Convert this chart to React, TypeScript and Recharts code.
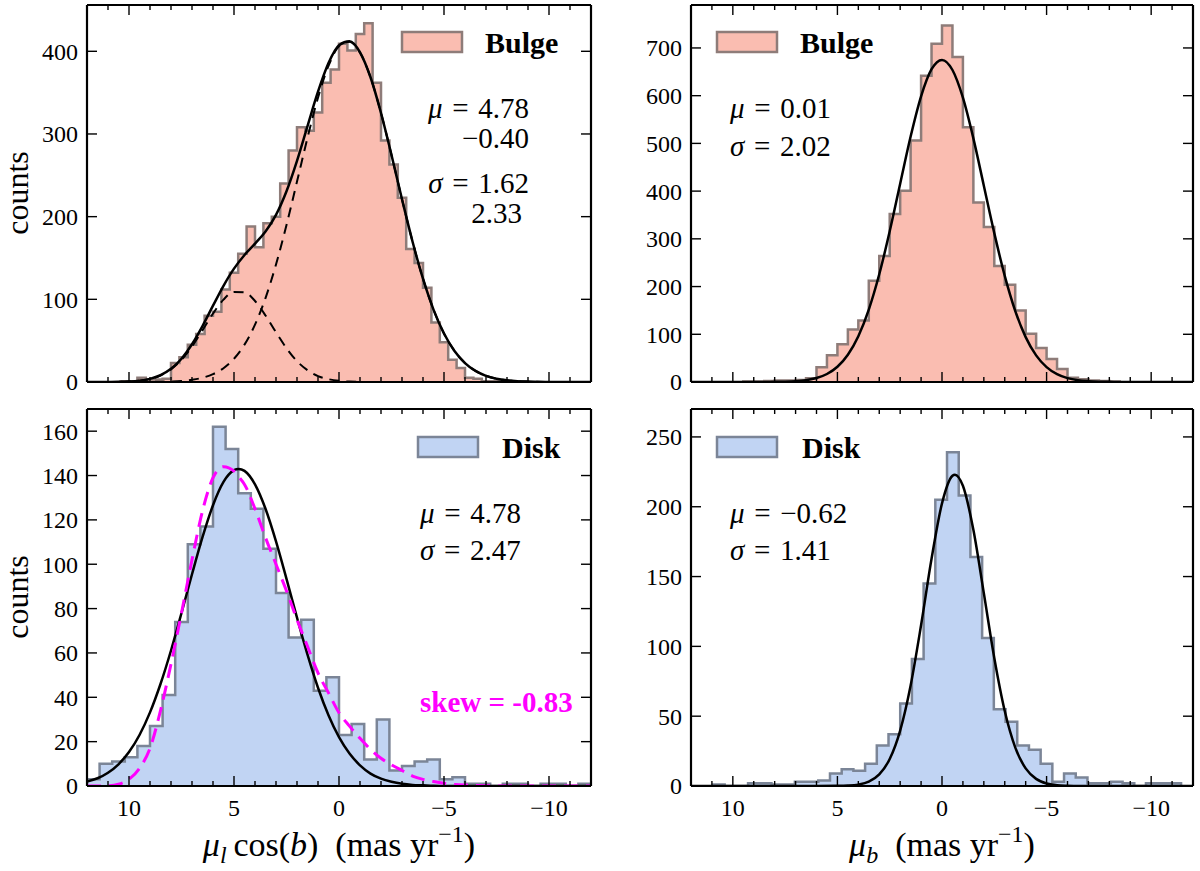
import React from "react";
import { ComposedChart, Area, Line, XAxis, YAxis } from "recharts";

const FONT = "'Liberation Serif', 'Times New Roman', serif";

// x ticks: minor every 1 mas/yr, labelled every 5
const xTicks = [-11, -10, -9, -8, -7, -6, -5, -4, -3, -2, -1, 0, 1, 2, 3, 4, 5, 6, 7, 8, 9, 10, 11];

const topLeftTicks = [0, 100, 200, 300, 400];
const topRightTicks = [0, 100, 200, 300, 400, 500, 600, 700];
const bottomLeftTicks = [0, 20, 40, 60, 80, 100, 120, 140, 160];
const bottomRightTicks = [0, 50, 100, 150, 200, 250];

// bulge, mu_l cos(b)
const bulgeLStart = -7.6;
const bulgeLWidth = 0.4;
const bulgeLCounts = [
  1, 1, 4, 5, 17, 27, 48, 72, 114, 144, 161, 223, 263, 292, 362, 434, 421, 401, 409, 378,
  362, 326, 304, 308, 280, 240, 200, 192, 163, 188, 155, 132, 112, 85, 80, 58, 45, 30, 23, 4,
  3, 3, 5, 1, 1,
];
const bulgeLCurveX = [
  -12, -10, -9, -8.5, -8, -7.5, -7, -6.5, -6, -5.5, -5, -4.5, -4, -3.5, -3, -2.5, -2, -1.5, -1, -0.5,
  0, 0.5, 1, 1.5, 2, 2.5, 3, 3.5, 4, 4.5, 5, 5.5, 6, 6.5, 7, 7.5, 8, 8.5, 9, 9.5, 10, 10.5, 11, 12,
];
const bulgeLFit = [
  0, 0, 0.5, 1.0, 2.0, 4.0, 7.5, 13.4, 22.9, 37.5, 58.7, 87.6, 124.9, 170.0, 221.1, 274.5, 325.4, 368.6, 398.8, 412.1,
  407.4, 385.8, 351.1, 309.6, 267.6, 230.8, 202.2, 182.0, 167.3, 153.6, 137.1, 116.4, 92.3, 67.7, 45.7, 28.2, 15.9, 8.2, 3.8, 1.6,
  0.6, 0.2, 0.1, 0,
];
const bulgeLComp1 = [
  0, 0, 0, 0, 0, 0, 0, 0, 0, 0, 0, 0, 0, 0, 0, 0, 0, 0, 0.2, 0.5,
  1.4, 3.4, 7.2, 14.2, 25.2, 40.9, 60.1, 80.5, 98.0, 108.4, 109.0, 99.7, 82.8, 62.6, 43.0, 26.9, 15.3, 7.9, 3.7, 1.6,
  0.6, 0.2, 0.1, 0,
];
const bulgeLComp2 = [
  0, 0, 0.5, 1.0, 2.0, 4.0, 7.5, 13.4, 22.9, 37.5, 58.7, 87.6, 124.9, 170.0, 221.1, 274.5, 325.4, 368.6, 398.6, 411.6,
  406.0, 382.4, 343.9, 295.4, 242.4, 189.9, 142.1, 101.5, 69.3, 45.2, 28.1, 16.7, 9.5, 5.1, 2.7, 1.3, 0.6, 0.3, 0.1, 0,
  0, 0, 0, 0,
];

// bulge, mu_b
const bulgeBStart = -8.5;
const bulgeBWidth = 0.5;
const bulgeBCounts = [
  1, 2, 3, 6, 9, 27, 48, 71, 101, 150, 204, 243, 325, 376, 534, 681, 747, 709, 642, 506,
  401, 352, 264, 212, 129, 110, 79, 56, 31, 8, 4, 3, 3, 2, 1, 1,
];
const bulgeBCurveX = [
  -12, -10, -9, -8.5, -8, -7.5, -7, -6.5, -6, -5.5, -5, -4.5, -4, -3.5, -3, -2.5, -2, -1.5, -1, -0.5,
  0, 0.5, 1, 1.5, 2, 2.5, 3, 3.5, 4, 4.5, 5, 5.5, 6, 6.5, 7, 7.5, 8, 8.5, 9, 10, 12,
];
const bulgeBFit = [
  0, 0, 0, 0.1, 0.3, 0.7, 1.7, 3.7, 8.1, 16.4, 31.2, 55.8, 94.1, 149.2, 222.4, 311.9, 411.4, 510.5, 595.7, 653.8,
  675, 655.4, 598.6, 514.3, 415.5, 315.8, 225.7, 151.7, 96.0, 57.1, 31.9, 16.8, 8.3, 3.9, 1.7, 0.7, 0.3, 0.1, 0, 0, 0,
];

// disk, mu_l cos(b)
const diskLStart = -12;
const diskLWidth = 0.6;
const diskLCounts = [
  1, 0, 1, 1, 0, 1, 1, 0, 1, 1, 4, 3, 12, 11, 9, 7, 30, 12, 28, 23,
  49, 43, 75, 67, 87, 107, 125, 132, 152, 162, 117, 109, 74, 41, 27, 18, 13, 11, 10, 3,
];
const diskLCurveX = [
  -12, -10, -8, -7, -6.5, -6, -5.5, -5, -4.5, -4, -3.5, -3, -2.5, -2, -1.5, -1, -0.5, 0, 0.5, 1,
  1.5, 2, 2.5, 3, 3.5, 4, 4.5, 4.78, 5, 5.5, 6, 6.5, 7, 7.5, 8, 8.5, 9, 9.5, 10, 10.5, 11, 11.5, 12,
];
const diskLFit = [
  0, 0, 0, 0, 0, 0, 0, 0, 0.1, 0.3, 0.5, 1.0, 1.9, 3.3, 5.6, 9.3, 14.6, 22.0, 31.9, 44.3,
  59.2, 75.9, 93.4, 110.3, 125.0, 136.0, 142.1, 143, 142.4, 137.1, 126.6, 112.2, 95.5, 78.0, 61.1, 46.0, 33.2, 23.0, 15.3, 9.8,
  6.0, 3.5, 2.0,
];
const diskLSkew = [
  0, 0, 0, 0.1, 0.2, 0.4, 0.7, 1.2, 2, 3, 4.5, 7, 9.5, 12.5, 16.5, 21.5, 27, 33, 42, 51,
  63, 75, 88, 100, 112, 125, 136, 139.5, 142, 144, 139, 124, 102, 78, 55, 34, 17, 8, 3, 0.8,
  0.1, 0, 0,
];

// disk, mu_b
const diskBStart = -11.43;
const diskBWidth = 0.5595;
const diskBCounts = [
  2, 2, 2, 0, 2, 3, 2, 2, 6, 9, 3, 16, 26, 29, 46, 55, 106, 164, 208, 239,
  205, 145, 91, 59, 37, 29, 16, 11, 12, 9, 4, 3, 3, 1, 1, 2, 2, 0, 0, 1,
];
const diskBCurveX = [
  -12, -9, -8, -7, -6.5, -6, -5.5, -5, -4.5, -4, -3.5, -3, -2.5, -2, -1.5, -1, -0.62, -0.5, 0, 0.5,
  1, 1.5, 2, 2.5, 3, 3.5, 4, 4.5, 5, 6, 8, 12,
];
const diskBFit = [
  0, 0, 0, 0, 0, 0.2, 0.6, 1.8, 5.1, 12.6, 27.7, 53.7, 91.7, 138.1, 183.5, 215.0, 223, 222.2, 202.4, 162.7,
  115.3, 72.0, 39.7, 19.3, 8.3, 3.1, 1.0, 0.3, 0.1, 0, 0, 0,
];

const BULGE_FILL = "#fabdb1";
const BULGE_EDGE = "#8e7c79";
const DISK_FILL = "#c1d4f3";
const DISK_EDGE = "#7b8597";

type Row = { x: number; [key: string]: number | undefined };

// histogram edges (descending, for a reversed axis) merged with the fit curves
function buildRows(start: number, width: number, counts: number[], curveX: number[], curves: Record<string, number[]>) {
  const rows: Row[] = [];
  const n = counts.length;
  rows.push({ x: start + n * width, count: 0 });
  for (let i = n - 1; i >= 0; i--) rows.push({ x: start + (i + 1) * width, count: counts[i] });
  rows.push({ x: start, count: 0 });
  curveX.forEach((x, j) => {
    const r: Row = { x };
    Object.keys(curves).forEach((k) => {
      r[k] = curves[k][j];
    });
    rows.push(r);
  });
  return rows.sort((a, b) => b.x - a.x);
}

const minusFmt = (v: number) => (v < 0 ? `\u2212${-v}` : `${v}`);

function BottomTick(props: any) {
  const { x, y, payload, labels } = props;
  const v = payload.value;
  const major = v % 5 === 0;
  return (
    <g>
      <line x1={x} x2={x} y1={y} y2={y - (major ? 10 : 5)} stroke="#000" strokeWidth={1.4} />
      {labels && major ? (
        <text x={x} y={y + 30} textAnchor="middle" fontFamily={FONT} fontSize={24} fill="#000">
          {minusFmt(v)}
        </text>
      ) : null}
    </g>
  );
}

function TopTick(props: any) {
  const { x, y, payload } = props;
  const major = payload.value % 5 === 0;
  return <line x1={x} x2={x} y1={y} y2={y + (major ? 10 : 5)} stroke="#000" strokeWidth={1.4} />;
}

function LeftTick(props: any) {
  const { x, y, payload } = props;
  return (
    <g>
      <line x1={x} x2={x + 10} y1={y} y2={y} stroke="#000" strokeWidth={1.4} />
      <text x={x - 9} y={y} dy="0.35em" textAnchor="end" fontFamily={FONT} fontSize={24} fill="#000">
        {payload.value}
      </text>
    </g>
  );
}

function RightTick(props: any) {
  const { x, y } = props;
  return <line x1={x} x2={x - 10} y1={y} y2={y} stroke="#000" strokeWidth={1.4} />;
}

type LineSpec = { key: string; color: string; width: number; dash?: string };

type PanelProps = {
  left: number;
  top: number;
  width: number;
  height: number;
  axes: { left: number; right: number; top: number; bottom: number };
  yDomain: [number, number];
  yTicks: number[];
  xLabels: boolean;
  rows: Row[];
  fill: string;
  edge: string;
  lines: LineSpec[];
};

const frame = { stroke: "#000", strokeWidth: 2.2 };

function Panel(p: PanelProps) {
  return (
    <div style={{ position: "absolute", left: p.left, top: p.top }}>
      <ComposedChart width={p.width} height={p.height} data={p.rows} margin={{ top: 0, right: 0, bottom: 0, left: 0 }}>
        <XAxis
          xAxisId="b"
          dataKey="x"
          type="number"
          domain={[-12, 12]}
          reversed
          allowDataOverflow
          ticks={xTicks}
          interval={0}
          height={p.axes.bottom}
          tickSize={0}
          tickMargin={0}
          tickLine={false}
          axisLine={frame}
          tick={(t: any) => <BottomTick {...t} labels={p.xLabels} />}
        />
        <XAxis
          xAxisId="t"
          orientation="top"
          dataKey="x"
          type="number"
          domain={[-12, 12]}
          reversed
          allowDataOverflow
          ticks={xTicks}
          interval={0}
          height={p.axes.top}
          tickSize={0}
          tickMargin={0}
          tickLine={false}
          axisLine={frame}
          tick={(t: any) => <TopTick {...t} />}
        />
        <YAxis
          yAxisId="l"
          type="number"
          domain={p.yDomain}
          allowDataOverflow
          ticks={p.yTicks}
          interval={0}
          width={p.axes.left}
          tickSize={0}
          tickMargin={0}
          tickLine={false}
          axisLine={frame}
          tick={(t: any) => <LeftTick {...t} />}
        />
        <YAxis
          yAxisId="r"
          orientation="right"
          type="number"
          domain={p.yDomain}
          allowDataOverflow
          ticks={p.yTicks}
          interval={0}
          width={p.axes.right}
          tickSize={0}
          tickMargin={0}
          tickLine={false}
          axisLine={frame}
          tick={(t: any) => <RightTick {...t} />}
        />
        <Area
          xAxisId="b"
          yAxisId="l"
          type="stepAfter"
          dataKey="count"
          fill={p.fill}
          fillOpacity={1}
          stroke={p.edge}
          strokeWidth={2.5}
          connectNulls
          dot={false}
          activeDot={false}
          isAnimationActive={false}
        />
        {p.lines.map((l) => (
          <Line
            key={l.key}
            xAxisId="b"
            yAxisId="l"
            type="monotone"
            dataKey={l.key}
            stroke={l.color}
            strokeWidth={l.width}
            strokeDasharray={l.dash}
            connectNulls
            dot={false}
            activeDot={false}
            isAnimationActive={false}
          />
        ))}
      </ComposedChart>
    </div>
  );
}

function MathText({ x, y, sym, value, anchor = "start" }: { x: number; y: number; sym?: string; value: string; anchor?: "start" | "end" }) {
  return (
    <text x={x} y={y} textAnchor={anchor} fontFamily={FONT} fontSize={29} fill="#000">
      {sym ? <tspan fontStyle="italic">{sym}</tspan> : null}
      {sym ? `\u2004=\u2004${value}` : value}
    </text>
  );
}

function LegendEntry({ x, y, tx, fill, edge, label }: { x: number; y: number; tx: number; fill: string; edge: string; label: string }) {
  return (
    <g>
      <rect x={x} y={y} width={60} height={20} fill={fill} stroke={edge} strokeWidth={2.5} />
      <text x={tx} y={y + 21} fontFamily={FONT} fontWeight="bold" fontSize={30} fill="#000">
        {label}
      </text>
    </g>
  );
}

export default function App() {
  const topLeftRows = buildRows(bulgeLStart, bulgeLWidth, bulgeLCounts, bulgeLCurveX, {
    fit: bulgeLFit,
    comp1: bulgeLComp1,
    comp2: bulgeLComp2,
  });
  const topRightRows = buildRows(bulgeBStart, bulgeBWidth, bulgeBCounts, bulgeBCurveX, { fit: bulgeBFit });
  const bottomLeftRows = buildRows(diskLStart, diskLWidth, diskLCounts, diskLCurveX, { fit: diskLFit, skew: diskLSkew });
  const bottomRightRows = buildRows(diskBStart, diskBWidth, diskBCounts, diskBCurveX, { fit: diskBFit });

  return (
    <div style={{ position: "absolute", left: 0, top: 0, width: 1200, height: 871, background: "#fff", overflow: "hidden" }}>
      <Panel
        left={0}
        top={0}
        width={600}
        height={410}
        axes={{ left: 87, right: 9, top: 5, bottom: 28 }}
        yDomain={[0, 456]}
        yTicks={topLeftTicks}
        xLabels={false}
        rows={topLeftRows}
        fill={BULGE_FILL}
        edge={BULGE_EDGE}
        lines={[
          { key: "comp1", color: "#000", width: 2, dash: "10 7" },
          { key: "comp2", color: "#000", width: 2, dash: "10 7" },
          { key: "fit", color: "#000", width: 2.5 },
        ]}
      />
      <Panel
        left={600}
        top={0}
        width={600}
        height={410}
        axes={{ left: 91, right: 7, top: 5, bottom: 28 }}
        yDomain={[0, 790]}
        yTicks={topRightTicks}
        xLabels={false}
        rows={topRightRows}
        fill={BULGE_FILL}
        edge={BULGE_EDGE}
        lines={[{ key: "fit", color: "#000", width: 2.5 }]}
      />
      <Panel
        left={0}
        top={400}
        width={600}
        height={420}
        axes={{ left: 87, right: 9, top: 9, bottom: 34 }}
        yDomain={[0, 170]}
        yTicks={bottomLeftTicks}
        xLabels
        rows={bottomLeftRows}
        fill={DISK_FILL}
        edge={DISK_EDGE}
        lines={[
          { key: "fit", color: "#000", width: 2.5 },
          { key: "skew", color: "#ff00ff", width: 3, dash: "14 8" },
        ]}
      />
      <Panel
        left={600}
        top={400}
        width={600}
        height={420}
        axes={{ left: 91, right: 7, top: 9, bottom: 34 }}
        yDomain={[0, 270]}
        yTicks={bottomRightTicks}
        xLabels
        rows={bottomRightRows}
        fill={DISK_FILL}
        edge={DISK_EDGE}
        lines={[{ key: "fit", color: "#000", width: 2.5 }]}
      />

      <svg width={1200} height={871} style={{ position: "absolute", left: 0, top: 0, pointerEvents: "none" }}>
        {/* y labels */}
        <text x={17} y={193} transform="rotate(-90 17 193)" textAnchor="middle" dominantBaseline="central" fontFamily={FONT} fontSize={32}>
          counts
        </text>
        <text x={17} y={597} transform="rotate(-90 17 597)" textAnchor="middle" dominantBaseline="central" fontFamily={FONT} fontSize={32}>
          counts
        </text>

        {/* x labels */}
        <text x={339} y={856} textAnchor="middle" fontFamily={FONT} fontSize={34} fill="#000">
          <tspan fontStyle="italic">μ</tspan>
          <tspan fontStyle="italic" fontSize={24} dy={7}>l</tspan>
          <tspan dy={-7}>{"\u2009cos("}</tspan>
          <tspan fontStyle="italic">b</tspan>
          <tspan>{")\u2002(mas yr"}</tspan>
          <tspan fontSize={24} dy={-14}>{"\u22121"}</tspan>
          <tspan dy={14}>)</tspan>
        </text>
        <text x={942} y={856} textAnchor="middle" fontFamily={FONT} fontSize={34} fill="#000">
          <tspan fontStyle="italic">μ</tspan>
          <tspan fontStyle="italic" fontSize={24} dy={7}>b</tspan>
          <tspan dy={-7}>{"\u2002(mas yr"}</tspan>
          <tspan fontSize={24} dy={-14}>{"\u22121"}</tspan>
          <tspan dy={14}>)</tspan>
        </text>

        {/* legends */}
        <LegendEntry x={402} y={32} tx={485} fill={BULGE_FILL} edge={BULGE_EDGE} label="Bulge" />
        <LegendEntry x={717} y={32} tx={800} fill={BULGE_FILL} edge={BULGE_EDGE} label="Bulge" />
        <LegendEntry x={418} y={437} tx={502} fill={DISK_FILL} edge={DISK_EDGE} label="Disk" />
        <LegendEntry x={717} y={437} tx={802} fill={DISK_FILL} edge={DISK_EDGE} label="Disk" />

        {/* fit parameters */}
        <MathText x={529} y={118} sym="μ" value="4.78" anchor="end" />
        <MathText x={529} y={148} value={"\u22120.40"} anchor="end" />
        <MathText x={529} y={193} sym="σ" value="1.62" anchor="end" />
        <MathText x={522} y={223} value="2.33" anchor="end" />

        <MathText x={730} y={118} sym="μ" value="0.01" />
        <MathText x={730} y={156} sym="σ" value="2.02" />

        <MathText x={420} y={523} sym="μ" value="4.78" />
        <MathText x={420} y={560} sym="σ" value="2.47" />
        <text x={420} y={712} fontFamily={FONT} fontWeight="bold" fontSize={29} fill="#ff00ff">
          skew = -0.83
        </text>

        <MathText x={730} y={523} sym="μ" value={"\u22120.62"} />
        <MathText x={730} y={560} sym="σ" value="1.41" />
      </svg>
    </div>
  );
}
